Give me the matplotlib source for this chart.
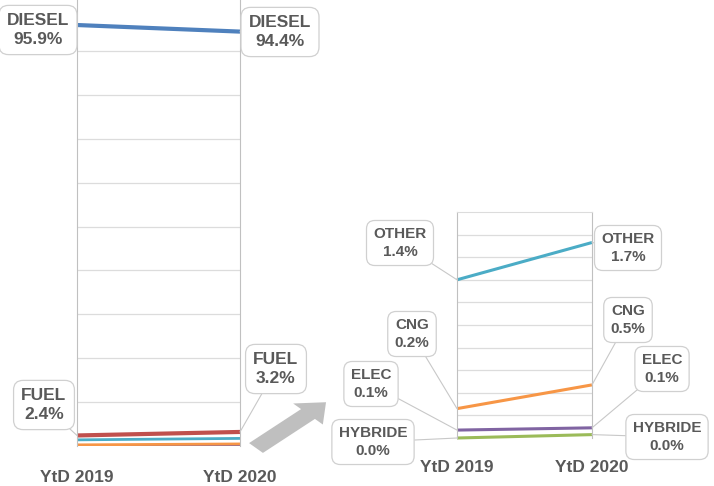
import matplotlib.pyplot as plt
from matplotlib.patches import FancyArrow

plt.rcParams['font.family'] = ['Liberation Sans', 'DejaVu Sans']

years = ['YtD 2019', 'YtD 2020']

# share of the market (%)
diesel = [95.9, 94.4]
fuel = [2.4, 3.2]
other = [1.4, 1.73]
cng = [0.26, 0.47]
elec = [0.07, 0.09]
hybride = [0.0, 0.03]

# texts shown in the boxes
diesel_lbl = ['95.9%', '94.4%']
fuel_lbl = ['2.4%', '3.2%']
other_lbl = ['1.4%', '1.7%']
cng_lbl = ['0.2%', '0.5%']
elec_lbl = ['0.1%', '0.1%']
hybride_lbl = ['0.0%', '0.0%']

c_diesel = '#4f81bd'
c_fuel = '#c0504d'
c_other = '#4bacc6'
c_cng = '#f79646'
c_elec = '#8064a2'
c_hyb = '#9bbb59'
txt_col = '#595959'

W, H = 714, 486
fig = plt.figure(figsize=(W / 100, H / 100), dpi=100)


def box(ax, x, y, txt, px, py, size):
    ax.annotate(txt, xy=(x, y), xycoords='data',
                xytext=(px, H - py), textcoords='figure pixels',
                ha='center', va='center', fontsize=size, fontweight='bold',
                color=txt_col, linespacing=1.3, annotation_clip=False,
                bbox=dict(boxstyle='round,pad=0.45,rounding_size=0.55',
                          fc='white', ec='#d0d0d0', lw=0.9),
                arrowprops=dict(arrowstyle='-', color='#c8c8c8', lw=0.8,
                                shrinkA=0, shrinkB=0))


def style(ax, ticks, ylim):
    ax.set_xlim(0, 1)
    ax.set_ylim(*ylim)
    ax.set_yticks(ticks)
    ax.yaxis.grid(True, color='#dcdcdc', lw=0.9)
    ax.set_axisbelow(True)
    ax.tick_params(left=False, bottom=False, labelleft=False)
    ax.set_xticks([0, 1])
    ax.set_xticklabels(years, fontsize=12.5, fontweight='bold', color=txt_col)
    for s in ['left', 'right']:
        ax.spines[s].set_color('#c0c0c0')
    ax.spines['bottom'].set_visible(False)


# left panel: whole market
ax1 = fig.add_axes([77 / W, 1 - 446 / H, 163 / W, 446 / H])
style(ax1, range(10, 100, 10), (0, 101.6))
ax1.spines['top'].set_visible(False)
ax1.tick_params(axis='x', pad=14)
for vals, c, lw in [(hybride, c_hyb, 2), (elec, c_elec, 2), (cng, c_cng, 2),
                    (other, c_other, 2), (fuel, c_fuel, 3), (diesel, c_diesel, 3)]:
    ax1.plot([0, 1], vals, color=c, lw=lw, solid_capstyle='butt')

box(ax1, 0, diesel[0], 'DIESEL\n' + diesel_lbl[0], 38, 30, 12.5)
box(ax1, 1, diesel[1], 'DIESEL\n' + diesel_lbl[1], 280, 32, 12.5)
box(ax1, 0, fuel[0], 'FUEL\n' + fuel_lbl[0], 44, 405, 12.5)
box(ax1, 1, fuel[1], 'FUEL\n' + fuel_lbl[1], 276, 369, 12.5)

# right panel: zoom on the small segments
ax2 = fig.add_axes([457 / W, 1 - 438 / H, 135 / W, 226 / H])
style(ax2, [i / 10 for i in range(2, 20, 2)], (0, 2))
ax2.spines['top'].set_color('#dcdcdc')
ax2.tick_params(axis='x', pad=12)
for vals, c in [(hybride, c_hyb), (elec, c_elec), (cng, c_cng), (other, c_other)]:
    ax2.plot([0, 1], vals, color=c, lw=2.2, solid_capstyle='butt', clip_on=False)

box(ax2, 0, other[0], 'OTHER\n' + other_lbl[0], 400, 243, 11)
box(ax2, 1, other[1], 'OTHER\n' + other_lbl[1], 628, 248, 11)
box(ax2, 0, cng[0], 'CNG\n' + cng_lbl[0], 412, 334, 11)
box(ax2, 1, cng[1], 'CNG\n' + cng_lbl[1], 628, 320, 11)
box(ax2, 0, elec[0], 'ELEC\n' + elec_lbl[0], 371, 384, 11)
box(ax2, 1, elec[1], 'ELEC\n' + elec_lbl[1], 662, 369, 11)
box(ax2, 0, hybride[0], 'HYBRIDE\n' + hybride_lbl[0], 373, 442, 11)
box(ax2, 1, hybride[1], 'HYBRIDE\n' + hybride_lbl[1], 667, 437, 11)

# grey arrow pointing from the left panel to the zoom
arr = FancyArrow(256 / W, 1 - 448 / H, 52 / W, 34 / H, width=0.028,
                 head_width=0.06, head_length=0.035, length_includes_head=False,
                 transform=fig.transFigure, color='#bfbfbf', lw=0)
fig.patches.append(arr)

fig.savefig('out.png', dpi=100)
